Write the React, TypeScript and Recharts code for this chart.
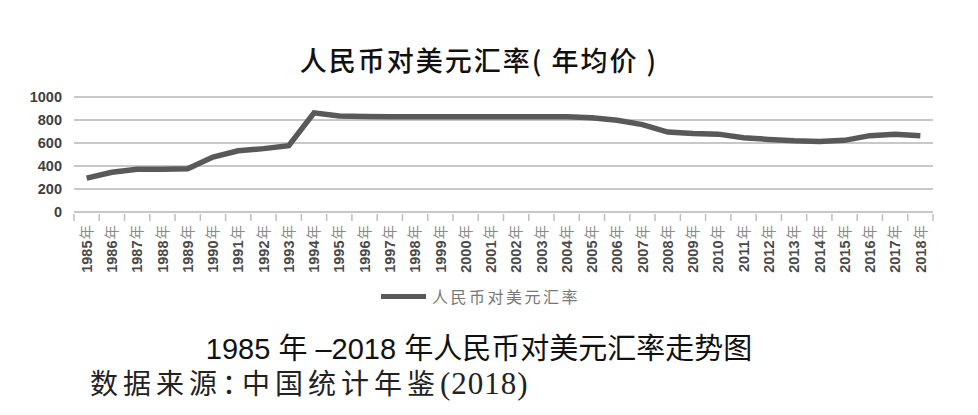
import { LineChart, Line, XAxis, YAxis, CartesianGrid, Legend } from "recharts"

// 人民币对美元汇率（年均价，元/100美元）
const years = [
  "1985", "1986", "1987", "1988", "1989", "1990", "1991", "1992", "1993", "1994",
  "1995", "1996", "1997", "1998", "1999", "2000", "2001", "2002", "2003", "2004",
  "2005", "2006", "2007", "2008", "2009", "2010", "2011", "2012", "2013", "2014",
  "2015", "2016", "2017", "2018",
]
const rates = [
  294, 345, 372, 372, 377, 478, 532, 551, 576, 862,
  835, 831, 829, 828, 828, 828, 828, 828, 828, 828,
  819, 797, 760, 695, 683, 677, 646, 631, 619, 614,
  623, 664, 675, 662,
]
const yTicks = [0, 200, 400, 600, 800, 1000]
const seriesName = "人民币对美元汇率"

const data = years.map((y, i) => ({ label: y, rate: rates[i] }))

const PLOT_LEFT = 74
const PLOT_RIGHT = 933
const BAND = (PLOT_RIGHT - PLOT_LEFT) / years.length

const SANS = '"Liberation Sans", "Noto Sans CJK SC", sans-serif'

function YearTick(props: any) {
  const { x, y, payload, index } = props
  const left = x - BAND / 2
  return (
    <g>
      <line x1={left} y1={y - 6} x2={left} y2={y + 1} stroke="#bfbfbf" strokeWidth={1.5} />
      {index === years.length - 1 && (
        <line x1={x + BAND / 2} y1={y - 6} x2={x + BAND / 2} y2={y + 1} stroke="#bfbfbf" strokeWidth={1.5} />
      )}
      <text
        x={x}
        y={y + 5}
        transform={`rotate(-90, ${x}, ${y + 5})`}
        textAnchor="end"
        dy="0.36em"
        fontSize={14.5}
        fontWeight={700}
        fill="#4a4a4a"
        fontFamily={SANS}
      >
        {payload.value}
        <tspan fill="#8a8a8a" fontWeight={400} dx={1}>年</tspan>
      </text>
    </g>
  )
}

function LegendContent() {
  return (
    <div style={{ display: "flex", alignItems: "center", justifyContent: "center", paddingLeft: 28 }}>
      <div style={{ width: 45, height: 5, background: "#595959", marginRight: 6 }} />
      <span style={{ fontSize: 16, color: "#777", fontFamily: '"Noto Sans CJK SC", sans-serif', letterSpacing: 2.5 }}>
        {seriesName}
      </span>
    </div>
  )
}

export default function App() {
  return (
    <div style={{ position: "absolute", left: 0, top: 0, width: 978, height: 415, background: "#fff" }}>
      <div
        style={{
          position: "absolute", top: 40, left: 0, width: 958, textAlign: "center",
          fontSize: 27, fontFamily: '"Noto Sans CJK SC", sans-serif', fontWeight: 500, color: "#111", letterSpacing: 2,
        }}
      >
        人民币对美元汇率( 年均价 )
      </div>
      <LineChart
        width={978}
        height={314}
        data={data}
        margin={{ top: 97, right: 978 - PLOT_RIGHT, bottom: 0, left: 0 }}
      >
        <CartesianGrid vertical={false} stroke="#c8c8c8" strokeWidth={2} />
        <YAxis
          domain={[0, 1000]}
          ticks={yTicks}
          width={PLOT_LEFT}
          axisLine={false}
          tickLine={false}
          tickSize={0}
          tickMargin={12}
          tick={{ fontSize: 14.5, fontWeight: 700, fill: "#404040", fontFamily: SANS }}
        />
        <XAxis
          dataKey="label"
          interval={0}
          height={72}
          padding={{ left: BAND / 2, right: BAND / 2 }}
          axisLine={{ stroke: "#c8c8c8", strokeWidth: 2 }}
          tickLine={false}
          tick={<YearTick />}
        />
        <Legend verticalAlign="bottom" height={30} content={<LegendContent />} />
        <Line
          dataKey="rate"
          name={seriesName}
          type="linear"
          stroke="#595959"
          strokeWidth={5.5}
          dot={false}
          isAnimationActive={false}
        />
      </LineChart>
      <div
        style={{
          position: "absolute", top: 325, left: 0, width: 958, textAlign: "center",
          fontSize: 29, fontFamily: SANS, color: "#111",
        }}
      >
        1985 年 –2018 年人民币对美元汇率走势图
      </div>
      <div
        style={{
          position: "absolute", top: 362, left: 90,
          fontSize: 28, fontFamily: '"Liberation Serif", "Noto Sans CJK SC", serif',
          color: "#222", letterSpacing: 5,
        }}
      >
        数据来源<span style={{ letterSpacing: -8 }}>：</span>中国统计年鉴
        <span style={{ letterSpacing: 1, fontSize: 31 }}>(2018)</span>
      </div>
    </div>
  )
}
